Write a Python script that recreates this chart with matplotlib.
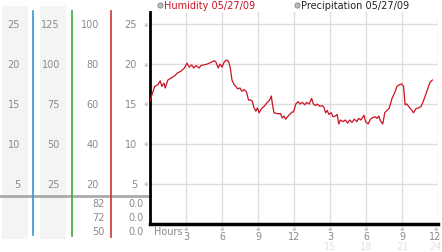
import matplotlib
matplotlib.use("Agg")
import matplotlib.pyplot as plt

# ---- data ----
hours = [0.0, 0.17, 0.39, 0.66, 0.85, 0.99, 1.16, 1.27, 1.49, 1.76, 2.04, 2.31, 2.59, 2.87,
         3.08, 3.28, 3.47, 3.64, 3.83, 4.1, 4.24, 4.52, 4.79, 5.07, 5.35, 5.48, 5.68, 5.84,
         6.0, 6.2, 6.39, 6.55, 6.69, 6.83, 7.02, 7.16, 7.3, 7.5, 7.66, 7.85, 8.04, 8.21, 8.4,
         8.54, 8.65, 8.82, 8.95, 9.09, 9.28, 9.5, 9.78, 9.97, 10.11, 10.2, 10.33, 10.6, 10.88,
         11.02, 11.16, 11.3, 11.57, 11.84, 11.96, 12.15, 12.34, 12.5, 12.7, 12.9, 13.06, 13.25,
         13.39, 13.47, 13.61, 13.8, 13.94, 14.16, 14.35, 14.49, 14.63, 14.77, 14.9, 15.1, 15.26,
         15.45, 15.6, 15.73, 15.87, 16.09, 16.28, 16.47, 16.64, 16.83, 17.02, 17.25, 17.38,
         17.58, 17.74, 17.83, 17.96, 18.18, 18.37, 18.57, 18.79, 18.93, 19.07, 19.2, 19.4,
         19.56, 19.75, 19.94, 20.17, 20.39, 20.58, 20.77, 20.99, 21.13, 21.26, 21.4, 21.6,
         21.82, 21.96, 22.15, 22.37, 22.59, 22.79, 22.98, 23.2, 23.33, 23.53]
humidity = [15.4, 16.2, 17.2, 17.4, 17.9, 17.2, 17.6, 17.0, 18.0, 18.25, 18.5, 18.9, 19.1, 19.5,
            20.1, 19.6, 19.9, 19.5, 19.8, 19.5, 19.8, 19.9, 20.0, 20.2, 20.4, 20.3, 19.5, 20.0,
            19.6, 20.3, 20.5, 20.3, 19.5, 18.0, 17.4, 17.2, 16.9, 17.0, 16.6, 16.8, 16.5, 15.5, 15.5,
            15.3, 14.6, 14.1, 14.5, 13.9, 14.4, 14.7, 15.2, 15.5, 16.0, 15.0, 13.9, 13.8, 13.8,
            13.25, 13.5, 13.1, 13.6, 14.0, 14.0, 15.0, 15.3, 15.0, 15.2, 14.9, 15.2, 15.0,
            15.4, 15.7, 15.0, 14.8, 15.0, 14.7, 14.8, 14.6, 13.9, 14.2, 13.7, 13.9, 13.4,
            13.5, 13.7, 12.5, 13.0, 12.8, 13.0, 12.6, 13.0, 12.7, 13.1, 12.8, 13.2,
            13.0, 13.4, 13.6, 12.8, 12.5, 13.1, 13.3, 13.4, 13.2, 13.5, 12.9, 12.5,
            13.9, 14.2, 14.5, 15.7, 16.4, 17.2, 17.4, 17.5, 17.2, 14.9, 15.0, 14.6,
            14.2, 13.9, 14.4, 14.5, 14.7, 15.4, 16.2, 17.1, 17.7, 18.0]

y_ticks = [5, 10, 15, 20, 25]
col1_labels = ["5", "10", "15", "20", "25"]
col2_labels = ["25", "50", "75", "100", "125"]
col3_labels = ["20", "40", "60", "80", "100"]
col4_labels = ["5", "10", "15", "20", "25"]
col3_bottom = ["82", "72", "50"]
col4_bottom = ["0.0", "0.0", "0.0"]
x_ticks = [3, 6, 9, 12, 15, 18, 21, 24]
x_labels = ["3", "6", "9", "12", "3", "6", "9", "12"]
x_labels2 = ["15", "18", "21", "24"]
legend_labels = ["Humidity 05/27/09", "Precipitation 05/27/09"]

W, H = 442, 253
fig = plt.figure(figsize=(W / 100, H / 100), dpi=100)
fig.patch.set_facecolor("white")

TXT = "#8a8a8a"
RED = "#cc1122"
FS = 7

# overlay in pixel coordinates
ov = fig.add_axes([0, 0, 1, 1])
ov.set_xlim(0, W)
ov.set_ylim(H, 0)
ov.axis("off")

# shaded columns
ov.add_patch(plt.Rectangle((2, 7), 26, 233, color="#f4f4f4", lw=0, zorder=0))
ov.add_patch(plt.Rectangle((40, 7), 26, 233, color="#f4f4f4", lw=0, zorder=0))

# vertical colored lines
ov.plot([33, 33], [12, 236], color="#3399cc", lw=1.2, zorder=2)
ov.plot([72, 72], [12, 237], color="#33aa33", lw=1.2, zorder=2)
ov.plot([111, 111], [12, 238], color="#cc3333", lw=1.2, zorder=2)
# grey horizontal separator
ov.plot([0, 150], [197, 197], color="#aaaaaa", lw=2, zorder=1)

def ypix(v):
    return 225 - 8 * v

for v, a, b, c, d in zip(y_ticks, col1_labels, col2_labels, col3_labels, col4_labels):
    yy = ypix(v)
    ov.text(20, yy, a, ha="right", va="center", fontsize=FS, color=TXT)
    ov.text(60, yy, b, ha="right", va="center", fontsize=FS, color=TXT)
    ov.text(99, yy, c, ha="right", va="center", fontsize=FS, color=TXT)
    ov.text(137, yy, d, ha="right", va="center", fontsize=FS, color=TXT)
    ov.text(145.5, yy, "\u203b", ha="center", va="center", fontsize=4, color="#999999")

for yy, a, b in zip([204, 218, 232], col3_bottom, col4_bottom):
    ov.text(105, yy, a, ha="right", va="center", fontsize=FS, color=TXT)
    ov.text(144, yy, b, ha="right", va="center", fontsize=FS, color=TXT)

# legend
ov.scatter([160, 297], [6, 6], s=14, facecolor="#bbbbbb", edgecolor="#888888", lw=0.6, zorder=3)
ov.text(164, 6, legend_labels[0], ha="left", va="center", fontsize=FS, color=RED)
ov.text(301, 6, legend_labels[1], ha="left", va="center", fontsize=FS, color="#222222")

# main chart
ax = fig.add_axes([150 / W, (H - 225) / H, 288 / W, 212 / H])
ax.set_xlim(0, 24)
ax.set_ylim(0, 26.5)
ax.patch.set_alpha(0)
for v in y_ticks:
    ax.axhline(v, color="#dddddd", lw=1, zorder=1)
for v in x_ticks:
    ax.axvline(v, color="#dddddd", lw=1, zorder=1)
ax.plot(hours, humidity, color=RED, lw=0.9, zorder=3)
for s in ["top", "right"]:
    ax.spines[s].set_visible(False)
ax.spines["left"].set_linewidth(2)
ax.spines["bottom"].set_linewidth(2.5)
ax.spines["left"].set_color("black")
ax.spines["bottom"].set_color("black")
ax.set_xticks([])
ax.set_yticks([])

# x labels in overlay
ov.text(154, 232, "Hours", ha="left", va="center", fontsize=FS, color=TXT)
for v, lab in zip(x_ticks, x_labels):
    xx = min(150 + 12 * v, 435.5)
    ov.text(xx, 229.5, "\u203b", ha="center", va="center", fontsize=4, color="#999999")
    ov.text(xx, 237, lab, ha="center", va="center", fontsize=FS, color=TXT)
for v, lab in zip(x_ticks[4:], x_labels2):
    xx = min(150 + 12 * v, 435.5)
    ov.text(xx, 247, lab, ha="center", va="center", fontsize=FS, color="#e2e2e2")

fig.savefig("out.png", dpi=100, facecolor="white")
